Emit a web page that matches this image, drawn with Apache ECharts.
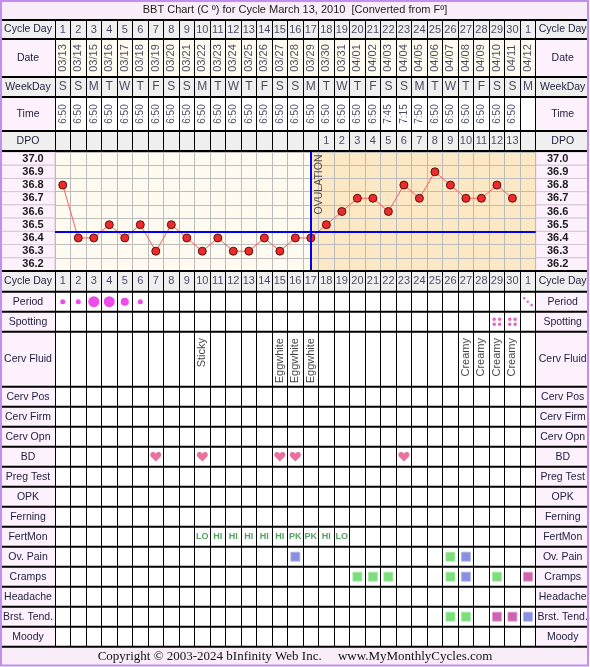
<!DOCTYPE html>
<html>
<head>
<meta charset="utf-8">
<script src="https://cdn.jsdelivr.net/npm/echarts@6/dist/echarts.min.js"></script>
<style>
html,body{margin:0;padding:0;background:#ffffff;}
#chart{width:590px;height:667px;}
</style>
</head>
<body>
<div id="chart"></div>
<script>
// ---------------- data ----------------
const titleText = 'BBT Chart (C \u00ba) for Cycle March 13, 2010  [Converted from F\u00ba]';
const footerText = 'Copyright \u00a9 2003-2024 bInfinity Web Inc.     www.MyMonthlyCycles.com';
const cycleDays = ['1','2','3','4','5','6','7','8','9','10','11','12','13','14','15','16','17','18','19','20','21','22','23','24','25','26','27','28','29','30','1'];
const dates = ['03/13','03/14','03/15','03/16','03/17','03/18','03/19','03/20','03/21','03/22','03/23','03/24','03/25','03/26','03/27','03/28','03/29','03/30','03/31','04/01','04/02','04/03','04/04','04/05','04/06','04/07','04/08','04/09','04/10','04/11','04/12'];
const weekDays = ['S','S','M','T','W','T','F','S','S','M','T','W','T','F','S','S','M','T','W','T','F','S','S','M','T','W','T','F','S','S','M'];
const times = ['6:50','6:50','6:50','6:50','6:50','6:50','6:50','6:50','6:50','6:50','6:50','6:50','6:50','6:50','6:50','6:50','6:50','6:50','6:50','6:50','6:50','7:45','7:15','7:50','6:50','6:50','6:50','6:50','6:50','6:50',''];
const dpo = ['','','','','','','','','','','','','','','','','','1','2','3','4','5','6','7','8','9','10','11','12','13',''];
const temps = [36.8,36.4,36.4,36.5,36.4,36.5,36.3,36.5,36.4,36.3,36.4,36.3,36.3,36.4,36.3,36.4,36.4,36.5,36.6,36.7,36.7,36.6,36.8,36.7,36.9,36.8,36.7,36.7,36.8,36.7,null];
const tempTicks = ['36.2','36.3','36.4','36.5','36.6','36.7','36.8','36.9','37.0'];
const coverline = 36.45;
const ovulationDay = 17;
const periodDays = [1,2,3,4,5,6];
const periodFlow = ['light','light','heavy','heavy','medium','light'];
const periodSpotDays = [31];
const spottingDays = [29,30];
const cfDays = [10,15,16,17,27,28,29,30];
const cfValues = ['Sticky','Eggwhite','Eggwhite','Eggwhite','Creamy','Creamy','Creamy','Creamy'];
const bdDays = [7,10,15,16,23];
const fertMonDays = [10,11,12,13,14,15,16,17,18,19];
const fertMonValues = ['LO','HI','HI','HI','HI','HI','PK','PK','HI','LO'];
const ovPainDays = [16,26,27];
const ovPainLevels = ['moderate','mild','moderate'];
const crampsDays = [20,21,22,26,27,29,31];
const crampsLevels = ['mild','mild','mild','mild','moderate','mild','severe'];
const brstDays = [26,27,29,30,31];
const brstLevels = ['mild','mild','severe','severe','moderate'];
const tableRows = ['Period','Spotting','Cerv Fluid','Cerv Pos','Cerv Firm','Cerv Opn','BD','Preg Test','OPK','Ferning','FertMon','Ov. Pain','Cramps','Headache','Brst. Tend.','Moody'];

// ---------------- style / layout ----------------
const FONT = "'Liberation Sans', Arial, sans-serif";
const TXT = '#1c1c3c';
const X0 = 55, X1 = 535.7;
const GRAY = '#efefef', PINK = '#fdf1fd', CREAM = '#fffbf0', WHITE = '#ffffff', TAN = '#fde8c6', BAND = '#f9edf9';
const levelColor = {
  mild: ['#5cd65c', '#a4eca4'],
  moderate: ['#6b74d8', '#aeb3ee'],
  severe: ['#c23c9c', '#e59ad2']
};
const flowSize = {light: 5, medium: 8, heavy: 11};

const layout = [
  {id:'cd1', name:'Cycle Day', top:20, h:19, lab:GRAY, cell:GRAY},
  {id:'date', name:'Date', top:39, h:38, lab:PINK, cell:CREAM},
  {id:'wd', name:'WeekDay', top:77, h:20, lab:GRAY, cell:GRAY},
  {id:'time', name:'Time', top:97, h:34, lab:PINK, cell:WHITE},
  {id:'dpo', name:'DPO', top:131, h:20, lab:GRAY, cell:GRAY},
  {id:'temp', name:'', top:151, h:120, lab:PINK, cell:null},
  {id:'cd2', name:'Cycle Day', top:271, h:20.7, lab:GRAY, cell:GRAY}
];
(function(){
  let y = 291.7;
  tableRows.forEach(n => {
    const h = n === 'Cerv Fluid' ? 55 : 20;
    layout.push({id:n, name:n, top:y, h:h, lab:PINK, cell:WHITE});
    y += h;
  });
})();
const END_Y = 646.7;

const grid = [], xAxis = [], yAxis = [], series = [], graphic = [];
layout.forEach((r, i) => {
  const isT = r.id === 'temp';
  const gTop = isT ? r.top + 1 : r.top;
  const gH = isT ? r.h - 1 : r.h;
  grid.push({left:X0, top:gTop, width:X1 - X0, height:gH, show:!isT,
    backgroundColor:r.cell || 'transparent', borderWidth:0, containLabel:false, outerBoundsMode:'none'});
  xAxis.push({type:'value', gridIndex:i, min:0.5, max:31.5, interval:1, z:isT ? 2 : 0,
    axisLine:{show:false}, axisTick:{show:false}, axisLabel:{show:false},
    splitLine:{show:true, showMinLine:true, showMaxLine:true, lineStyle:{color:isT ? '#bcbcbc' : '#000', width:1}}});
  if (isT) {
    yAxis.push({type:'value', gridIndex:i, position:'left', min:36.15, max:37.05, interval:0.1, z:2,
      axisLine:{show:false}, axisTick:{show:false}, axisLabel:{show:false},
      splitLine:{show:true, showMinLine:true, showMaxLine:true, lineStyle:{color:'#bcbcbc', width:1}}});
  } else {
    yAxis.push({type:'value', gridIndex:i, position:'left', min:0, max:1, show:false});
  }
  const labs = isT ? tempTicks : [r.name];
  const ls = isT ? {fontWeight:'bold', fontSize:11, color:'#1a1a1a'} : {fontSize:10.5, color:TXT};
  ['left','right'].forEach(side => {
    yAxis.push({type:'category', gridIndex:i, position:side, data:labs,
      axisLine:{show:false}, axisTick:{show:false}, splitLine:{show:false},
      axisLabel:Object.assign({interval:0, align:'center', fontFamily:FONT,
        margin: isT ? 22 : 27}, ls)});
  });
  // label column backgrounds
  if (isT) {
    const rh = gH / 9;
    for (let k = 0; k < 9; k++) {
      [[1, X0 - 1], [X1, 588 - X1]].forEach(([x, w]) => {
        graphic.push({type:'rect', z:-1, silent:true, shape:{x:x, y:gTop + k * rh, width:w, height:rh},
          style:{fill:PINK, stroke:'#d6c6d6', lineWidth:1}});
      });
    }
  } else {
    [[1, X0 - 1], [X1, 588 - X1]].forEach(([x, w]) => {
      graphic.push({type:'rect', z:-1, silent:true, shape:{x:x, y:r.top, width:w, height:r.h}, style:{fill:r.lab}});
    });
  }
});

function gi(id){ return layout.findIndex(r => r.id === id); }
const dayNums = cycleDays.map((_, k) => k + 1);

function textRow(id, days, texts, labelExtra, yv){
  const g = gi(id);
  series.push({type:'scatter', xAxisIndex:g, yAxisIndex:g * 3, symbolSize:1, silent:true, z:4,
    itemStyle:{color:'rgba(0,0,0,0)'},
    data: days.map((d, k) => [d, yv == null ? 0.5 : yv, texts[k]]),
    label:Object.assign({show:true, position:'inside', formatter:p => p.data[2], color:TXT, fontSize:11, fontFamily:FONT}, labelExtra || {})});
}
function symRow(id, items, base){
  const g = gi(id);
  series.push(Object.assign({type:'scatter', xAxisIndex:g, yAxisIndex:g * 3, silent:true, z:4, data:items}, base));
}
function levelRow(id, days, levels){
  symRow(id, days.map((d, k) => ({value:[d, 0.5], itemStyle:{color:levelColor[levels[k]][0], borderColor:levelColor[levels[k]][1], borderWidth:1}})),
    {symbol:'rect', symbolSize:9});
}

// header rows
textRow('cd1', dayNums, cycleDays, {fontSize:11});
textRow('date', dayNums, dates, {rotate:90, fontSize:11});
textRow('wd', dayNums, weekDays, {fontSize:12});
textRow('time', dayNums, times, {rotate:90, fontSize:10});
textRow('dpo', dayNums, dpo, {fontSize:11});
textRow('cd2', dayNums, cycleDays, {fontSize:11});

// temperature chart
const ti = gi('temp');
series.push({type:'line', xAxisIndex:ti, yAxisIndex:ti * 3, z:3, silent:true,
  data: temps.map((t, k) => [k + 1, t]),
  lineStyle:{color:'#ff5c5c', width:1},
  symbol:'circle', symbolSize:8,
  itemStyle:{color:'#ee2a2a', borderColor:'#5a1212', borderWidth:1},
  markLine:{silent:true, symbol:'none', animation:false,
    lineStyle:{color:'#0000ee', width:2, type:'solid'}, label:{show:false},
    data:[{yAxis:coverline}, {xAxis:ovulationDay}]},
  markArea:{silent:true, z:1, animation:false,
    data:[[{xAxis:0.5, itemStyle:{color:CREAM}}, {xAxis:ovulationDay}],
          [{xAxis:ovulationDay, itemStyle:{color:TAN}}, {xAxis:31.5}]]}
});
series.push({type:'scatter', xAxisIndex:ti, yAxisIndex:ti * 3, symbolSize:1, silent:true, z:4,
  itemStyle:{color:'rgba(0,0,0,0)'},
  data:[[ovulationDay, 37.05, 'OVULATION']],
  label:{show:true, position:[3, 3], rotate:90, align:'right', verticalAlign:'top',
    formatter:p => p.data[2], color:'#222', fontSize:10.5, fontFamily:FONT}});

// table rows
symRow('Period', periodDays.map((d, k) => ({value:[d, 0.5], symbolSize:flowSize[periodFlow[k]]})),
  {symbol:'circle', itemStyle:{color:'#e91ee9'}});
symRow('Period', periodSpotDays.map(d => ({value:[d, 0.5]})),
  {symbol:'path://M1.3,0A1.3,1.3 0 1,1 1.3,2.6A1.3,1.3 0 1,1 1.3,0Z M4.8,3.4A1.3,1.3 0 1,1 4.8,6A1.3,1.3 0 1,1 4.8,3.4Z M8.7,6.8A1.3,1.3 0 1,1 8.7,9.4A1.3,1.3 0 1,1 8.7,6.8Z',
   symbolSize:[10, 9.4], itemStyle:{color:'#e040b0'}});
symRow('Spotting', spottingDays.map(d => ({value:[d, 0.5]})),
  {symbol:'path://M1.7,0A1.7,1.7 0 1,1 1.7,3.4A1.7,1.7 0 1,1 1.7,0Z M6.8,0A1.7,1.7 0 1,1 6.8,3.4A1.7,1.7 0 1,1 6.8,0Z M1.7,5A1.7,1.7 0 1,1 1.7,8.4A1.7,1.7 0 1,1 1.7,5Z M6.8,5A1.7,1.7 0 1,1 6.8,8.4A1.7,1.7 0 1,1 6.8,5Z',
   symbolSize:[9, 8.5], itemStyle:{color:'#e040b0'}});
textRow('Cerv Fluid', cfDays, cfValues, {rotate:90, align:'right', verticalAlign:'middle', fontSize:11, color:'#111'}, 0.885);
symRow('BD', bdDays.map(d => ({value:[d, 0.5]})),
  {symbol:'path://M50,92 L12,54 C0,42 2,18 22,12 C35,8 45,15 50,26 C55,15 65,8 78,12 C98,18 100,42 88,54 Z',
   symbolSize:[11, 9.5], itemStyle:{color:'#e34d84'}});
textRow('FertMon', fertMonDays, fertMonValues, {fontSize:9, fontWeight:'bold', color:'#2a8a3a'});
levelRow('Ov. Pain', ovPainDays, ovPainLevels);
levelRow('Cramps', crampsDays, crampsLevels);
levelRow('Brst. Tend.', brstDays, brstLevels);

// frame: title/footer bands, thick row lines, border
graphic.push({type:'rect', z:-1, silent:true, shape:{x:1, y:1, width:587, height:19}, style:{fill:BAND}});
graphic.push({type:'rect', z:-1, silent:true, shape:{x:1, y:END_Y, width:587, height:666 - END_Y}, style:{fill:BAND}});
layout.map(r => r.top).concat([END_Y]).forEach(y => {
  graphic.push({type:'line', z:50, silent:true, shape:{x1:1, y1:y, x2:588, y2:y}, style:{stroke:'#000', lineWidth:2}});
});
graphic.push({type:'rect', z:60, silent:true, shape:{x:1, y:1, width:587, height:664.5}, style:{fill:'none', stroke:'#c48ef0', lineWidth:2}});

const option = {
  animation:false,
  backgroundColor:'#ffffff',
  textStyle:{fontFamily:FONT},
  title:[
    {text:titleText, left:'center', top:4, padding:0, textStyle:{fontSize:11, fontWeight:'normal', color:'#222', fontFamily:FONT}},
    {text:footerText, left:'center', top:650, padding:0, textStyle:{fontSize:13, fontWeight:'normal', color:'#111', fontFamily:"'Liberation Serif', 'Times New Roman', serif"}}
  ],
  grid:grid, xAxis:xAxis, yAxis:yAxis, series:series, graphic:graphic
};
const chart = echarts.init(document.getElementById('chart'), null, {renderer:'canvas'});
chart.setOption(option);
</script>
</body>
</html>
